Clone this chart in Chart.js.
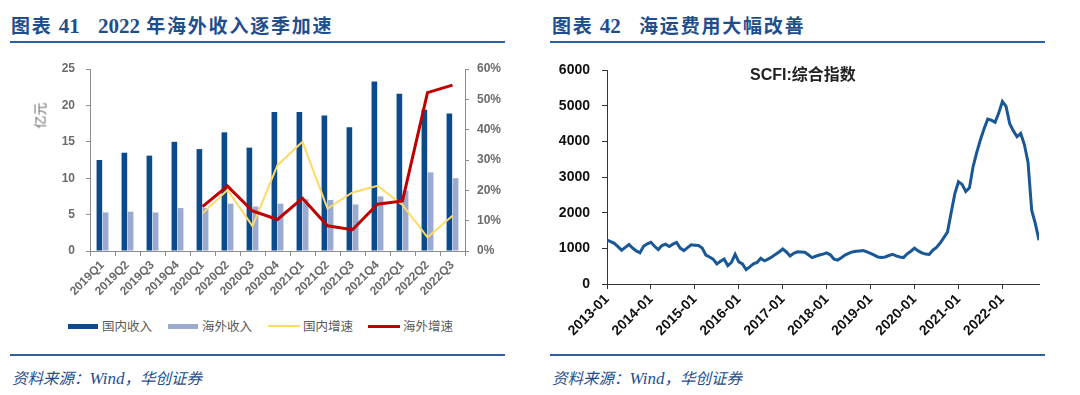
<!DOCTYPE html>
<html>
<head>
<meta charset="utf-8">
<script src="https://cdn.jsdelivr.net/npm/chart.js@4/dist/chart.umd.min.js"></script>
<style>
  body { margin: 0; width: 1080px; height: 395px; background: #fff; position: relative; overflow: hidden; font-family: "Liberation Sans", Arial, sans-serif; }
  .title { position: absolute; top: 11px; font-family: "Noto Sans CJK SC"; font-weight: bold; font-size: 19px; letter-spacing: 1.8px; color: #1F4E8C; white-space: nowrap; }
  .title .num { font-family: "Liberation Serif"; font-size: 21px; letter-spacing: 0; }
  .rule { position: absolute; height: 2px; background: #2E5F9E; }
  .src { position: absolute; top: 366px; font-family: "Noto Sans CJK SC"; font-style: italic; font-size: 15.5px; color: #1F4E8C; white-space: nowrap; }
  .src .en { font-family: "Liberation Serif"; font-size: 17px; }
  canvas { position: absolute; }
  .unit { position: absolute; left: 26px; top: 106px; font-family: "Noto Sans CJK SC"; font-size: 13px; color: #6b6b6b; transform: rotate(-90deg); transform-origin: center; }
  .legend { position: absolute; top: 316px; font-family: "Noto Sans CJK SC"; font-size: 12.5px; color: #595959; white-space: nowrap; }
  .sw { position: absolute; }
  .note { position: absolute; left: 750px; top: 61px; font-family: "Liberation Sans", "Noto Sans CJK SC"; font-weight: bold; font-size: 16px; color: #222; white-space: nowrap; }
</style>
</head>
<body>

<div class="title" style="left:11px">图表 <span class="num">41</span>&nbsp;&nbsp;&nbsp;<span class="num">2022</span> 年海外收入逐季加速</div>
<div class="rule" style="left:10px; top:41px; width:495px"></div>
<div class="title" style="left:552px">图表 <span class="num">42</span>&nbsp;&nbsp;&nbsp;海运费用大幅改善</div>
<div class="rule" style="left:550px; top:41px; width:495px"></div>

<canvas id="revenueChart" width="540" height="265" style="left:0; top:50px"></canvas>
<div class="unit">亿元</div>

<div class="legend">
  <span class="sw" style="left:68px; top:8px; width:30px; height:5px; background:#0B4A8B"></span>
  <span style="position:absolute; left:102px">国内收入</span>
  <span class="sw" style="left:168px; top:8px; width:30px; height:5px; background:#9AAAD0"></span>
  <span style="position:absolute; left:202px">海外收入</span>
  <span class="sw" style="left:268px; top:9px; width:32px; height:2px; background:#FFD966"></span>
  <span style="position:absolute; left:303px">国内增速</span>
  <span class="sw" style="left:368px; top:9px; width:32px; height:3px; background:#C00000"></span>
  <span style="position:absolute; left:403px">海外增速</span>
</div>

<canvas id="scfiChart" width="540" height="295" style="left:540px; top:50px"></canvas>
<div class="note">SCFI:综合指数</div>

<div class="rule" style="left:10px; top:354px; width:495px"></div>
<div class="rule" style="left:550px; top:354px; width:495px"></div>
<div class="src" style="left:12px">资料来源：<span class="en">Wind</span>，华创证券</div>
<div class="src" style="left:552px">资料来源：<span class="en">Wind</span>，华创证券</div>

<script>
// 图表41 数据（亿元 / %）
const quarters = ['2019Q1', '2019Q2', '2019Q3', '2019Q4', '2020Q1', '2020Q2', '2020Q3', '2020Q4',
                  '2021Q1', '2021Q2', '2021Q3', '2021Q4', '2022Q1', '2022Q2', '2022Q3'];
const domesticRevenue = [12.5, 13.5, 13.1, 15.0, 14.0, 16.3, 14.2, 19.1, 19.1, 18.6, 17.0, 23.3, 21.6, 19.4, 18.9];
const overseasRevenue = [5.3, 5.4, 5.3, 5.9, 5.9, 6.5, 6.1, 6.5, 7.1, 7.0, 6.4, 7.5, 8.3, 10.8, 10.0];
const domesticGrowth = [null, null, null, null, 12.4, 20.1, 8.2, 28.3, 36.0, 14.0, 19.3, 21.5, 15.2, 4.5, 11.6];
const overseasGrowth = [null, null, null, null, 14.6, 21.4, 13.2, 10.4, 17.4, 8.3, 7.0, 15.4, 16.5, 52.2, 54.7];

// 图表42 SCFI 月度读数，2013-01 起
const scfiTickLabels = ['2013-01', '2014-01', '2015-01', '2016-01', '2017-01',
                        '2018-01', '2019-01', '2020-01', '2021-01', '2022-01'];
const scfiValues = [
  1234, 1190, 1143, 1050, 950, 1030, 1110, 1010, 930, 875, 1060, 1130,   // 2013
  1170, 1060, 966, 1080, 1117, 1054, 1120, 1170, 1009, 939, 1020, 1100,  // 2014
  1090, 1081, 1009, 813, 760, 698, 564, 640, 698, 518, 607, 832,         // 2015
  620, 564, 402, 480, 564, 607, 724, 650, 698, 760, 832, 900,            // 2016
  983, 900, 786, 860, 903, 900, 893, 820, 742, 780, 813, 840,            // 2017
  875, 820, 700, 671, 740, 813, 860, 900, 920, 930, 939, 900,            // 2018
  860, 810, 760, 742, 760, 800, 832, 790, 760, 742, 849, 920,            // 2019
  1009, 930, 875, 840, 832, 950, 1028, 1150, 1300, 1457, 2000, 2530,     // 2020
  2871, 2798, 2600, 2700, 3300, 3700, 4051, 4363, 4631, 4600, 4542, 4800, // 2021
  5125, 4991, 4500, 4300, 4140, 4229, 3917, 3424, 2072, 1697, 1229       // 2022
];

const greyAxis = '#8c8c8c';
const greyText = '#6b6b6b';

new Chart(document.getElementById('revenueChart'), {
  data: {
    labels: quarters,
    datasets: [
      { type: 'line', label: '海外增速', data: overseasGrowth, yAxisID: 'y1', borderColor: '#C00000',
        borderWidth: 3, pointRadius: 0, order: 0 },
      { type: 'line', label: '国内增速', data: domesticGrowth, yAxisID: 'y1', borderColor: '#FFD966',
        borderWidth: 2, pointRadius: 0, order: 1 },
      { type: 'bar', label: '国内收入', data: domesticRevenue, yAxisID: 'y', backgroundColor: '#0B4A8B',
        categoryPercentage: 0.5, barPercentage: 0.9, order: 2 },
      { type: 'bar', label: '海外收入', data: overseasRevenue, yAxisID: 'y', backgroundColor: '#9AAAD0',
        categoryPercentage: 0.5, barPercentage: 0.9, order: 2 }
    ]
  },
  options: {
    responsive: false,
    animation: false,
    devicePixelRatio: 1,
    layout: { padding: { top: 19, left: 0, right: 0, bottom: 0 } },
    plugins: { legend: { display: false }, tooltip: { enabled: false } },
    scales: {
      x: {
        grid: { offset: true, drawOnChartArea: false, tickLength: 5, color: greyAxis },
        border: { color: greyAxis },
        ticks: { minRotation: 45, maxRotation: 45, autoSkip: false, padding: 2, color: greyText,
                 font: { family: 'Liberation Sans', size: 12, weight: 'bold' } },
        afterFit: s => { s.height = 64; }
      },
      y: {
        position: 'left', min: 0, max: 25,
        grid: { drawOnChartArea: false, tickLength: 4, color: greyAxis },
        border: { color: greyAxis },
        ticks: { stepSize: 5, padding: 11, color: greyText,
                 font: { family: 'Liberation Sans', size: 12, weight: 'bold' } },
        afterFit: s => { s.width = 90; }
      },
      y1: {
        position: 'right', min: 0, max: 60,
        grid: { drawOnChartArea: false, tickLength: 4, color: greyAxis },
        border: { color: greyAxis },
        ticks: { stepSize: 10, padding: 8, color: greyText, callback: v => v + '%',
                 font: { family: 'Liberation Sans', size: 12, weight: 'bold' } },
        afterFit: s => { s.width = 75; }
      }
    }
  }
});

new Chart(document.getElementById('scfiChart'), {
  type: 'line',
  data: {
    datasets: [{
      label: 'SCFI:综合指数',
      data: scfiValues.map((v, i) => ({ x: i, y: v })),
      borderColor: '#1A5796',
      borderWidth: 3,
      pointRadius: 0,
      tension: 0
    }]
  },
  options: {
    responsive: false,
    animation: false,
    devicePixelRatio: 1,
    layout: { padding: { top: 11, left: 0, right: 41, bottom: 0 } },
    plugins: { legend: { display: false }, tooltip: { enabled: false } },
    scales: {
      x: {
        type: 'linear', min: 0, max: scfiValues.length - 1,
        afterBuildTicks: s => { s.ticks = scfiTickLabels.map((_, i) => ({ value: i * 12 })); },
        grid: { drawOnChartArea: false, tickLength: 5, color: '#333' },
        border: { color: '#333' },
        ticks: { minRotation: 45, maxRotation: 45, autoSkip: false, padding: 2, color: '#111',
                 callback: v => scfiTickLabels[v / 12],
                 font: { family: 'Liberation Sans', size: 14, weight: 'bold' } },
        afterFit: s => { s.height = 61; }
      },
      y: {
        min: 0, max: 6000,
        grid: { drawOnChartArea: false, tickLength: 5, color: '#333' },
        border: { color: '#333' },
        ticks: { stepSize: 1000, padding: 12, color: '#111', callback: v => String(v),
                 font: { family: 'Liberation Sans', size: 14, weight: 'bold' } },
        afterFit: s => { s.width = 67; }
      }
    }
  }
});
</script>
</body>
</html>
